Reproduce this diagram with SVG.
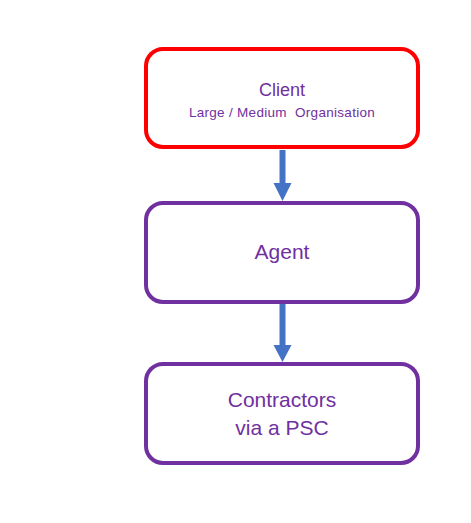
<svg xmlns="http://www.w3.org/2000/svg" width="471" height="523" viewBox="0 0 471 523">
<style>
.box{fill:#fff;stroke-width:4}
.t{font-family:"Liberation Sans",Arial,sans-serif;fill:#7030A0;text-anchor:middle}
.arr{fill:#4472C4}
</style>
<rect width="471" height="523" fill="#fff"/>
<g id="connectors">
<path class="arr" d="M279.5 150H285.5V183H291.5L282.5 201L273.5 183H279.5Z"/>
<path class="arr" d="M279.5 304H285.5V345H291.5L282.5 362L273.5 345H279.5Z"/>
</g>
<g id="client">
<rect class="box" x="146" y="49" width="272" height="98" rx="17" stroke="#FF0000"/>
<text class="t" x="282" y="96" font-size="18">Client</text>
<text class="t" x="282" y="117" font-size="13.5" letter-spacing="0.3" style="white-space:pre" xml:space="preserve">Large / Medium  Organisation</text>
</g>
<g id="agent">
<rect class="box" x="146" y="203" width="272" height="99" rx="17" stroke="#7030A0"/>
<text class="t" x="282" y="259" font-size="21">Agent</text>
</g>
<g id="contractors">
<rect class="box" x="146" y="364" width="272" height="99" rx="17" stroke="#7030A0"/>
<text class="t" x="282" y="407" font-size="21">Contractors</text>
<text class="t" x="282" y="435" font-size="21">via a PSC</text>
</g>
</svg>
